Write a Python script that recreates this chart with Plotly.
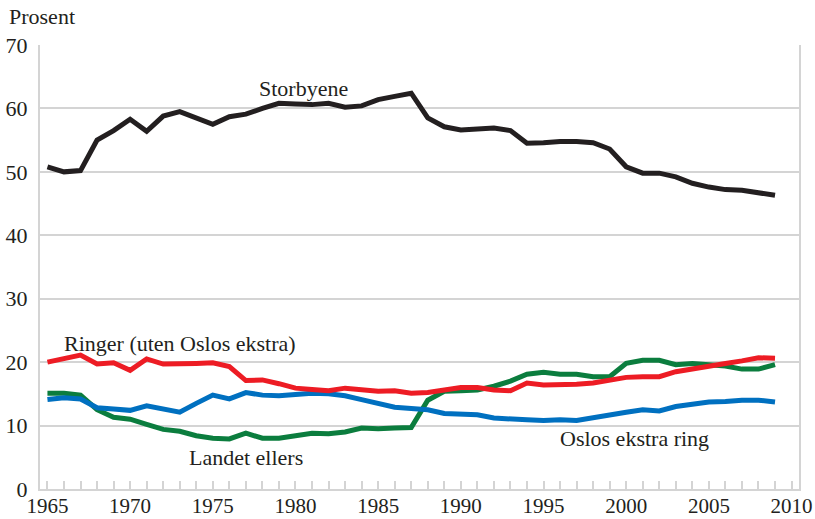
import plotly.graph_objects as go

years = list(range(1965, 2010))

storbyene = [50.8, 50.0, 50.2, 55.0, 56.5, 58.3, 56.4, 58.8, 59.5, 58.5,
             57.5, 58.7, 59.1, 60.0, 60.8, 60.7, 60.6, 60.8, 60.2, 60.4,
             61.4, 61.9, 62.4, 58.5, 57.1, 56.6, 56.7, 56.9, 56.5, 54.5,
             54.6, 54.8, 54.8, 54.6, 53.6, 50.8, 49.8, 49.8, 49.2, 48.2,
             47.6, 47.2, 47.1, 46.7, 46.3]

ringer = [20.0, 20.5, 21.1, 19.7, 19.9, 18.7, 20.5, 19.7, 19.7, 19.8,
          19.9, 19.3, 17.1, 17.2, 16.6, 15.9, 15.7, 15.5, 15.9, 15.6,
          15.4, 15.5, 15.1, 15.2, 15.6, 16.0, 16.0, 15.6, 15.5, 16.7,
          16.4, 16.4, 16.5, 16.7, 17.1, 17.6, 17.7, 17.7, 18.5, 19.0,
          19.5, 19.8, 20.2, 20.7, 20.6]

oslo_ekstra = [14.1, 14.4, 14.2, 12.8, 12.6, 12.4, 13.1, 12.6, 12.1, 13.5,
               14.8, 14.2, 15.2, 14.8, 14.7, 14.9, 15.1, 15.0, 14.7, 14.1,
               13.6, 12.9, 12.7, 12.5, 11.9, 11.8, 11.7, 11.2, 11.0, 10.9,
               10.8, 10.9, 10.8, 11.3, 11.8, 12.1, 12.5, 12.3, 13.0, 13.3,
               13.7, 13.8, 14.0, 14.0, 13.7]

landet = [15.1, 15.1, 14.8, 12.5, 11.3, 11.0, 10.2, 9.4, 9.1, 8.4,
          8.0, 7.9, 8.8, 8.0, 8.0, 8.5, 8.8, 8.7, 9.0, 9.6,
          9.5, 9.6, 9.7, 14.0, 15.4, 15.5, 15.6, 16.2, 17.0, 18.1,
          18.4, 18.1, 18.1, 17.7, 17.7, 19.8, 20.3, 20.3, 19.6, 19.8,
          19.6, 19.4, 18.9, 18.9, 19.6]

tick_years = list(range(1965, 2011))
tick_text = [str(y) if y % 5 == 0 else "" for y in tick_years]
y_ticks = [0, 10, 20, 30, 40, 50, 60, 70]

FONT = "Liberation Serif"
GRID = "#d4d4d4"
TXT = "#231f20"

fig = go.Figure()
series = [
    ("Landet ellers", landet, "#0b7d3e"),
    ("Oslos ekstra ring", oslo_ekstra, "#0070c0"),
    ("Ringer (uten Oslos ekstra)", ringer, "#ed1c24"),
    ("Storbyene", storbyene, "#231f20"),
]
for name, vals, col in series:
    fig.add_trace(go.Scatter(x=years, y=vals, mode="lines", name=name,
                             line=dict(color=col, width=5)))

labels = [
    ("Storbyene", 1980.5, 63.1),
    ("Ringer (uten Oslos ekstra)", 1973.0, 23.0),
    ("Landet ellers", 1977.0, 5.0),
    ("Oslos ekstra ring", 2000.5, 8.0),
]
for txt, x, y in labels:
    fig.add_annotation(x=x, y=y, text=txt, showarrow=False,
                       font=dict(family=FONT, size=22, color=TXT))

fig.add_annotation(xref="paper", yref="paper", x=-0.043, y=1.0, yshift=29,
                   xanchor="left", yanchor="middle", text="Prosent",
                   showarrow=False, font=dict(family=FONT, size=22, color=TXT))

fig.update_layout(
    width=815, height=519,
    margin=dict(l=40, r=16, t=45, b=30, autoexpand=False),
    paper_bgcolor="white", plot_bgcolor="white",
    showlegend=False,
    font=dict(family=FONT, size=22, color=TXT),
    xaxis=dict(range=[1964.55, 2010.45], tickmode="array",
               tickvals=tick_years, ticktext=tick_text,
               ticks="inside", ticklen=8, tickwidth=2, tickcolor=GRID,
               showline=True, linecolor=GRID, linewidth=2,
               showgrid=False, zeroline=False, ticklabelstandoff=-3,
               tickfont=dict(family=FONT, size=21, color=TXT)),
    yaxis=dict(range=[0, 70], tickvals=y_ticks,
               showline=True, linecolor=GRID, linewidth=2, mirror=True,
               showgrid=True, gridcolor=GRID, gridwidth=2,
               zeroline=False, ticks="", ticklabelstandoff=6,
               tickfont=dict(family=FONT, size=22, color=TXT)),
)

fig.write_html("out.html", config={"displayModeBar": False},
               post_script="document.body.style.margin='0';document.body.style.overflow='hidden';")
